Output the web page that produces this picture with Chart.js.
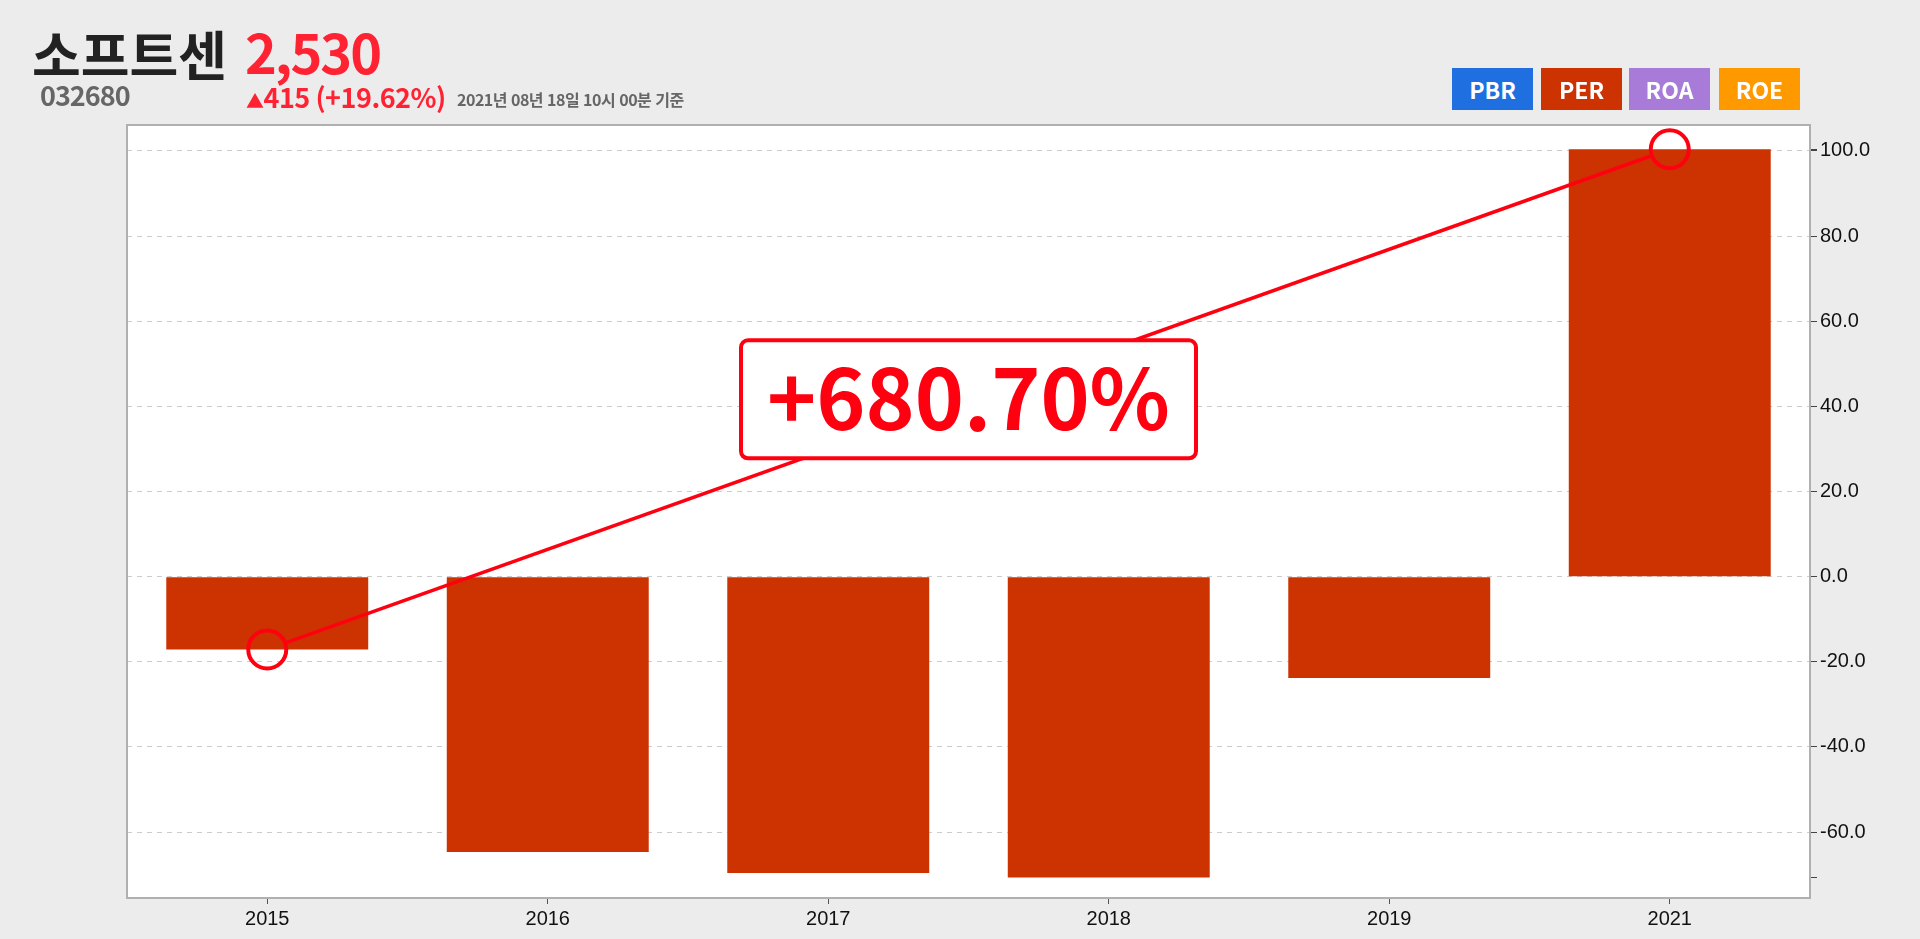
<!DOCTYPE html>
<html lang="ko">
<head>
<meta charset="UTF-8">
<script src="https://cdn.jsdelivr.net/npm/chart.js"></script>
<title>소프트센 PER</title>
<style>
  html, body { margin: 0; padding: 0; background: #ececec; overflow: hidden; }
  #wrap { position: absolute; left: 0; top: 0; width: 1920px; height: 939px; }
  #chart { position: absolute; left: 0; top: 0; }
  .hd { position: absolute; font-family: "Noto Sans CJK KR", "Noto Sans", sans-serif; font-weight: bold; line-height: 1; white-space: nowrap; }
  #name { left: 32px; top: 27px; font-size: 53px; color: #222; }
  #price { left: 245px; top: 24px; font-size: 54px; color: #ff2233; letter-spacing: -2px; }
  #code { left: 40px; top: 81px; font-size: 27px; color: #666; letter-spacing: -1px; }
  #change { left: 246px; top: 83px; font-size: 27px; color: #ff2233; letter-spacing: -0.5px; }
  #change .tri { font-size: 18px; }
  #date { left: 457px; top: 91px; font-size: 16px; color: #666; letter-spacing: -0.5px; }
  .btn { position: absolute; top: 68px; width: 81px; height: 42px; color: #fff; font-family: "Noto Sans CJK KR", "Noto Sans", sans-serif;
         font-weight: bold; font-size: 23px; line-height: 42px; text-align: center; }
</style>
</head>
<body>
<div id="wrap">
  <canvas id="chart" width="1920" height="939"></canvas>
  <div class="hd" id="name">소프트센</div>
  <div class="hd" id="price">2,530</div>
  <div class="hd" id="code">032680</div>
  <div class="hd" id="change"><span class="tri">▲</span>415 (+19.62%)</div>
  <div class="hd" id="date">2021년 08년 18일 10시 00분 기준</div>
  <div class="btn" style="left:1452px;background:#206fe0">PBR</div>
  <div class="btn" style="left:1541px;background:#cc3300">PER</div>
  <div class="btn" style="left:1629px;background:#a87bd8">ROA</div>
  <div class="btn" style="left:1719px;background:#ff9900">ROE</div>
</div>

<script>
// PER 값 (연도별)
var years = ['2015', '2016', '2017', '2018', '2019', '2021'];
var perValues = [-17.1, -64.7, -69.6, -70.7, -23.8, 100.4];
// 시작/끝 강조 포인트 (2015 -> 2021)
var markValues = [-17.1, null, null, null, null, 100.4];
var yTicks = [-60, -40, -20, 0, 20, 40, 60, 80, 100];
var growthLabel = '+680.70%';

var dataMin = Math.min.apply(null, perValues);
var dataMax = Math.max.apply(null, perValues);

// 차트 영역 배경 + 테두리
var framePlugin = {
  id: 'frame',
  beforeDraw: function (chart) {
    var a = chart.chartArea, ctx = chart.ctx;
    ctx.save();
    ctx.fillStyle = '#ffffff';
    ctx.fillRect(a.left, a.top, a.right - a.left, a.bottom - a.top);
    ctx.restore();
  },
  afterDatasetsDraw: function (chart) {
    var a = chart.chartArea, ctx = chart.ctx;
    ctx.save();
    ctx.strokeStyle = '#b0b0b0';
    ctx.lineWidth = 2;
    ctx.strokeRect(a.left, a.top, a.right - a.left, a.bottom - a.top);

    // 강조 포인트 연결선 + 증가율 박스
    var meta = chart.getDatasetMeta(1);
    var p0 = meta.data[0], p1 = meta.data[5];
    var r = 20;
    var dx = p1.x - p0.x, dy = p1.y - p0.y, len = Math.sqrt(dx * dx + dy * dy);
    var ux = dx / len, uy = dy / len;
    ctx.strokeStyle = '#ff0010';
    ctx.lineWidth = 3.5;
    ctx.beginPath();
    ctx.moveTo(p0.x + ux * r, p0.y + uy * r);
    ctx.lineTo(p1.x - ux * r, p1.y - uy * r);
    ctx.stroke();

    var cx = (p0.x + p1.x) / 2, cy = (p0.y + p1.y) / 2;
    var bw = 455, bh = 118;
    ctx.beginPath();
    ctx.roundRect(cx - bw / 2, cy - bh / 2, bw, bh, 7);
    ctx.fillStyle = '#ffffff';
    ctx.fill();
    ctx.lineWidth = 4;
    ctx.strokeStyle = '#ff0010';
    ctx.stroke();

    var fam = '"Noto Sans CJK KR", "Noto Sans", sans-serif';
    ctx.font = 'bold 100px ' + fam;
    var w = ctx.measureText(growthLabel).width;
    var size = 100 * 403 / w;
    ctx.font = 'bold ' + size + 'px ' + fam;
    var m = ctx.measureText(growthLabel);
    ctx.fillStyle = '#ff0010';
    ctx.textAlign = 'center';
    ctx.textBaseline = 'alphabetic';
    ctx.fillText(growthLabel, cx, cy + (m.actualBoundingBoxAscent - m.actualBoundingBoxDescent) / 2);
    ctx.restore();
  }
};

var ctx = document.getElementById('chart').getContext('2d');
new Chart(ctx, {
  type: 'bar',
  data: {
    labels: years,
    datasets: [{
      label: 'PER',
      data: perValues,
      backgroundColor: '#cc3300',
      barPercentage: 0.72,
      categoryPercentage: 1.0,
      order: 1
    }, {
      type: 'line',
      label: 'mark',
      data: markValues,
      showLine: false,
      pointRadius: 19,
      pointHoverRadius: 19,
      pointBorderWidth: 4,
      pointBorderColor: '#ff0010',
      pointBackgroundColor: 'rgba(0,0,0,0)',
      order: 0
    }]
  },
  options: {
    responsive: false,
    animation: false,
    devicePixelRatio: 1,
    layout: { padding: { left: 127, top: 125, right: 30, bottom: 5 } },
    plugins: { legend: { display: false }, tooltip: { enabled: false } },
    scales: {
      x: {
        offset: true,
        grid: { offset: false, drawOnChartArea: false, tickLength: 6, tickColor: '#555' },
        border: { display: false },
        ticks: { color: '#111', padding: 3, font: { family: '"Liberation Sans", Arial, sans-serif', size: 20 } },
        afterFit: function (s) { s.height = 36; }
      },
      y: {
        position: 'right',
        min: -75.5,
        max: 106.1,
        afterBuildTicks: function (s) {
          var t = yTicks.concat([dataMin, dataMax]).sort(function (a, b) { return a - b; });
          s.ticks = t.map(function (v) { return { value: v }; });
        },
        grid: {
          color: function (c) { return (c.tick && c.tick.value % 20 === 0) ? '#cccccc' : 'rgba(0,0,0,0)'; },
          lineWidth: 1,
          tickLength: 7,
          tickColor: '#444'
        },
        border: { display: false, dash: [5, 5] },
        ticks: {
          autoSkip: false,
          color: '#111',
          padding: 3,
          font: { family: '"Liberation Sans", Arial, sans-serif', size: 20 },
          callback: function (v) { return v % 20 === 0 ? v.toFixed(1) : ''; }
        },
        afterFit: function (s) { s.width = 80; }
      }
    }
  },
  plugins: [framePlugin]
});
</script>
</body>
</html>
